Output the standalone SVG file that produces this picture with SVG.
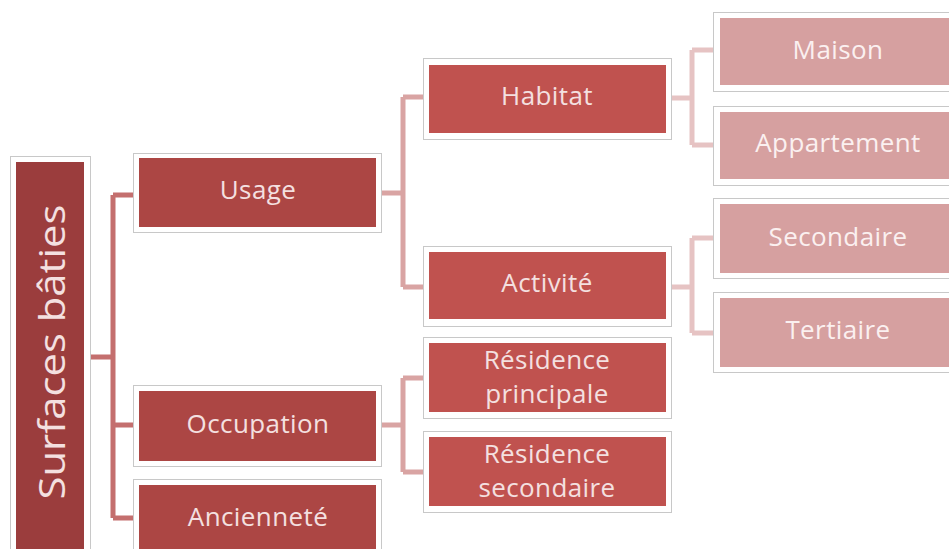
<svg xmlns="http://www.w3.org/2000/svg" width="949" height="549" viewBox="0 0 949 549">
<style>
.frame{fill:#ffffff;stroke:#c8c8c8;stroke-width:1}
.l0{fill:#9b3d3d}
.l1{fill:#ac4644}
.l2{fill:#c0524f}
.l3{fill:#d6a0a0}
.t{font-family:"Open Sans","DejaVu Sans",sans-serif;font-size:26px;letter-spacing:0.4px;fill:#f4e0e0;text-anchor:middle;dominant-baseline:central}
.t3{fill:#fbf0f0}
.c{fill:none;stroke-width:5;stroke-linejoin:miter}
.c0{stroke:#c46f6e}
.c1{stroke:#d9a4a3}
.c2{stroke:#e6c3c3}
</style>
<rect width="949" height="549" fill="#ffffff"/>
<g id="connectors">
<path class="c c0" d="M90 357 H113 M113 195 V518 M113 195 H134 M113 425 H134 M113 518 H134"/>
<path class="c c1" d="M382 193 H403 M403 97 V287 M403 97 H424 M403 287 H424"/>
<path class="c c1" d="M382 425 H403 M403 378 V472 M403 378 H424 M403 472 H424"/>
<path class="c c2" d="M672 98 H692 M692 50 V145 M692 50 H714 M692 145 H714"/>
<path class="c c2" d="M672 287 H692 M692 238 V333 M692 238 H714 M692 333 H714"/>
</g>
<g id="root">
<rect class="frame" x="10.5" y="156.5" width="80" height="400"/>
<rect class="l0" x="16" y="162" width="68" height="395"/>
<text class="t" transform="translate(50 352) rotate(-90)" style="font-size:37px;letter-spacing:0" textLength="295" lengthAdjust="spacingAndGlyphs">Surfaces bâties</text>
</g>
<g id="usage">
<rect class="frame" x="133.5" y="153.5" width="248" height="79"/>
<rect class="l1" x="139" y="158" width="237" height="69"/>
<text class="t" x="258" y="189">Usage</text>
</g>
<g id="occupation">
<rect class="frame" x="133.5" y="385.5" width="248" height="81"/>
<rect class="l1" x="139" y="391" width="237" height="70"/>
<text class="t" x="258" y="423">Occupation</text>
</g>
<g id="anciennete">
<rect class="frame" x="133.5" y="479.5" width="248" height="80"/>
<rect class="l1" x="139" y="485" width="237" height="70"/>
<text class="t" x="258" y="516">Ancienneté</text>
</g>
<g id="habitat">
<rect class="frame" x="423.5" y="58.5" width="248" height="81"/>
<rect class="l2" x="429" y="65" width="237" height="68"/>
<text class="t" x="547" y="95">Habitat</text>
</g>
<g id="activite">
<rect class="frame" x="423.5" y="246.5" width="248" height="80"/>
<rect class="l2" x="429" y="252" width="237" height="67"/>
<text class="t" x="547" y="282">Activité</text>
</g>
<g id="residence-principale">
<rect class="frame" x="423.5" y="337.5" width="248" height="81"/>
<rect class="l2" x="429" y="343" width="237" height="69"/>
<text class="t" x="547" y="359">Résidence</text>
<text class="t" x="547" y="393">principale</text>
</g>
<g id="residence-secondaire">
<rect class="frame" x="423.5" y="431.5" width="248" height="81"/>
<rect class="l2" x="429" y="437" width="237" height="69"/>
<text class="t" x="547" y="453">Résidence</text>
<text class="t" x="547" y="487">secondaire</text>
</g>
<g id="maison">
<rect class="frame" x="713.5" y="12.5" width="248" height="79"/>
<rect class="l3" x="720" y="18" width="237" height="67"/>
<text class="t t3" x="838" y="49">Maison</text>
</g>
<g id="appartement">
<rect class="frame" x="713.5" y="106.5" width="248" height="79"/>
<rect class="l3" x="720" y="112" width="237" height="67"/>
<text class="t t3" x="838" y="142">Appartement</text>
</g>
<g id="secondaire">
<rect class="frame" x="713.5" y="198.5" width="248" height="80"/>
<rect class="l3" x="720" y="204" width="237" height="69"/>
<text class="t t3" x="838" y="236">Secondaire</text>
</g>
<g id="tertiaire">
<rect class="frame" x="713.5" y="292.5" width="248" height="80"/>
<rect class="l3" x="720" y="298" width="237" height="69"/>
<text class="t t3" x="838" y="329">Tertiaire</text>
</g>
</svg>
